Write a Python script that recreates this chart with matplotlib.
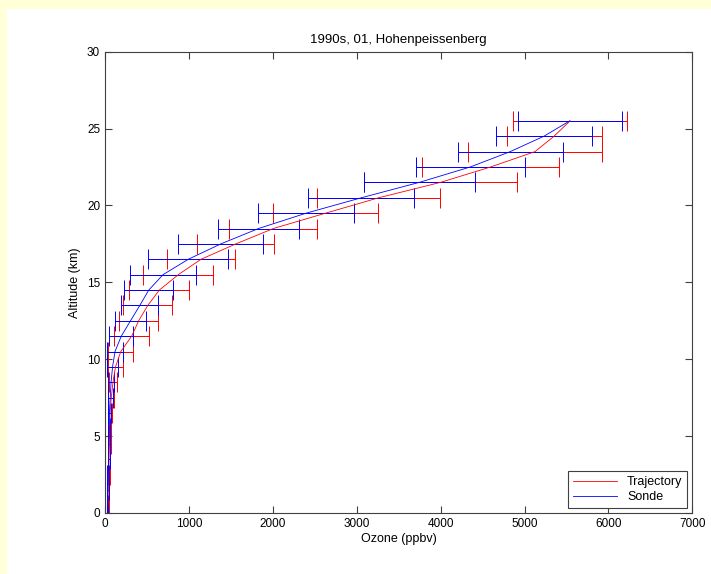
"""
Ozone profile: trajectory vs sonde, Hohenpeissenberg 1990s January.
"""
import numpy as np
import matplotlib.pyplot as plt
from matplotlib.patches import Rectangle

plt.rcParams['font.family'] = ['Liberation Sans', 'DejaVu Sans']

# altitude levels (km)
alt = np.arange(0.5, 26, 1.0)

# mean ozone (ppbv) and spread, trajectory
traj = [35, 40, 45, 48, 52, 55, 60, 75, 95, 125, 188, 318, 401, 510, 648,
        874, 1145, 1560, 2007, 2631, 3263, 3999, 4595, 5125, 5352, 5543]
traj_err = [12, 12, 14, 15, 15, 18, 22, 35, 45, 95, 150, 210, 235, 292, 358,
            417, 409, 459, 525, 625, 731, 910, 811, 793, 566, 678]

# mean ozone (ppbv) and spread, sonde
sonde = [28, 32, 38, 42, 45, 50, 52, 62, 72, 90, 119, 194, 304, 415, 522,
         692, 993, 1381, 1830, 2399, 3056, 3746, 4353, 4830, 5231, 5540]
sonde_err = [10, 10, 12, 12, 13, 15, 18, 30, 40, 70, 99, 143, 185, 221, 292,
             390, 477, 507, 487, 570, 632, 658, 648, 623, 573, 622]

fig = plt.figure(figsize=(7.11, 5.74), dpi=100)
fig.patch.set_facecolor('white')
# yellow frame strips (top and left)
fig.patches.append(Rectangle((0, 1 - 9 / 574), 1, 9 / 574, transform=fig.transFigure,
                             facecolor='#ffffd8', edgecolor='none', zorder=0))
fig.patches.append(Rectangle((0, 0), 7 / 711, 1, transform=fig.transFigure,
                             facecolor='#ffffd8', edgecolor='none', zorder=0))

ax = fig.add_axes([0.1477, 0.1063, 0.826, 0.8037])

ax.errorbar(traj, alt, xerr=traj_err, fmt='none', ecolor='r', elinewidth=0.7,
            capsize=7, capthick=0.7)
ax.errorbar(sonde, alt, xerr=sonde_err, fmt='none', ecolor='b', elinewidth=0.7,
            capsize=7, capthick=0.7)
ax.plot(traj, alt, 'r-', lw=0.6, label='Trajectory')
ax.plot(sonde, alt, 'b-', lw=0.6, label='Sonde')

ax.set_xlim(0, 7000)
ax.set_ylim(0, 30)
ax.set_xticks(range(0, 7001, 1000))
ax.set_yticks(range(0, 31, 5))
ax.tick_params(direction='in', top=True, right=True, length=5, width=0.8,
               labelsize=8.5, colors='#404040', labelcolor='black')
for s in ax.spines.values():
    s.set_color('#404040')
    s.set_linewidth(0.8)

ax.set_title('1990s, 01, Hohenpeissenberg', fontsize=9.5, pad=6)
ax.set_xlabel('Ozone (ppbv)', fontsize=9, labelpad=2)
ax.set_ylabel('Altitude (km)', fontsize=9, labelpad=4)

leg = ax.legend(loc='lower right', fontsize=9, fancybox=False, framealpha=1,
                edgecolor='#404040', handlelength=3.5, borderaxespad=0.4,
                labelspacing=0.2)
leg.get_frame().set_linewidth(0.8)

fig.savefig('out.png', dpi=100)
